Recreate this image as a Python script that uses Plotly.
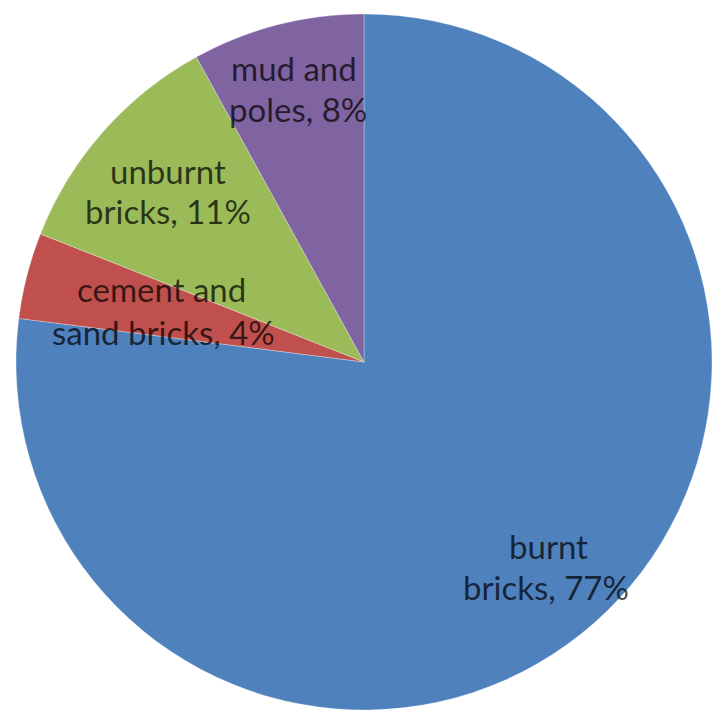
import plotly.graph_objects as go

# Data
categories = ["burnt bricks", "cement and sand bricks", "unburnt bricks", "mud and poles"]
values = [77, 4, 11, 8]
label_lines = [["burnt", "bricks, 77%"],
               ["cement and", "sand bricks, 4%"],
               ["unburnt", "bricks, 11%"],
               ["mud and", "poles, 8%"]]
colors = ["#4F81BD", "#C0504D", "#9BBB59", "#8064A2"]

W, H = 714, 710
L, T, S = 16, 14, 696  # margins and plot size

fig = go.Figure(go.Pie(
    labels=categories,
    values=values,
    sort=False,
    direction="clockwise",
    rotation=0,
    marker=dict(colors=colors, line=dict(color="rgba(255,255,255,0.5)", width=0.6)),
    textinfo="none",
    hoverinfo="label+percent",
    showlegend=False,
    domain=dict(x=[0, 1], y=[0, 1]),
))

# label line positions in pixels (x center, y center of each line)
label_pos = [[(548, 546), (546, 587)],
             [(161, 289), (163, 332)],
             [(168, 171), (168, 211)],
             [(294, 68), (298, 109)]]

annotations = []
for lines, poss in zip(label_lines, label_pos):
    for text, (px, py) in zip(lines, poss):
        annotations.append(dict(
            x=(px - L) / S, y=1 - (py - T) / S,
            xref="paper", yref="paper",
            text=text, showarrow=False,
            xanchor="center", yanchor="middle",
            font=dict(family="Lato, 'Open Sans', sans-serif", size=33,
                      color="rgba(0,0,0,0.72)"),
        ))

fig.update_layout(
    width=W, height=H,
    margin=dict(l=L, r=W - L - S, t=T, b=H - T - S),
    paper_bgcolor="white",
    plot_bgcolor="white",
    annotations=annotations,
)

fig.write_html("out.html")
